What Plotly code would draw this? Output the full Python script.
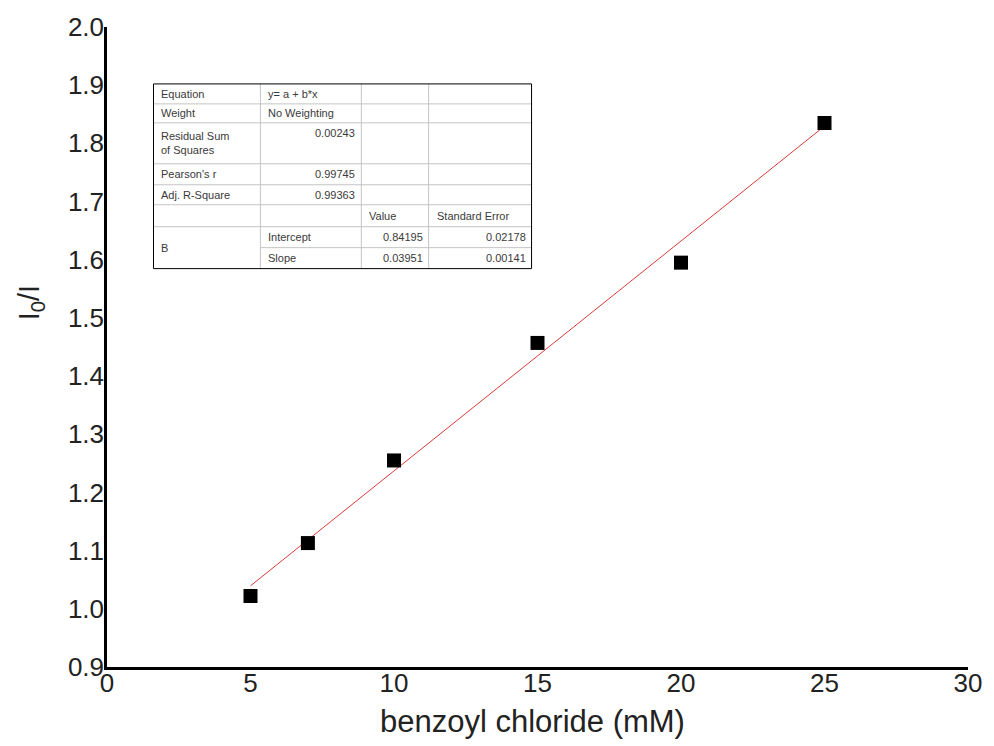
import plotly.graph_objects as go

# Quenching data: benzoyl chloride concentration vs I0/I
conc_mM = [5, 7, 10, 15, 20, 25]
i0_over_i = [1.022, 1.113, 1.255, 1.457, 1.595, 1.835]

# Linear fit results (y = a + b*x)
intercept = 0.84195
slope = 0.03951
fit_x = [5, 25]

x_ticks = [0, 5, 10, 15, 20, 25, 30]
y_ticks = [0.9, 1.0, 1.1, 1.2, 1.3, 1.4, 1.5, 1.6, 1.7, 1.8, 1.9, 2.0]

# Fit-report table content
table_rows = [
    ["Equation", "y= a + b*x", "", ""],
    ["Weight", "No Weighting", "", ""],
    ["Residual Sum<br>of Squares", "0.00243", "", ""],
    ["Pearson's r", "0.99745", "", ""],
    ["Adj. R-Square", "0.99363", "", ""],
    ["", "", "Value", "Standard Error"],
    ["B", "Intercept", "0.84195", "0.02178"],
    ["", "Slope", "0.03951", "0.00141"],
]

W, H = 994, 746
ML, MR, MT, MB = 107, 17, 26, 79
PW, PH = W - ML - MR, H - MT - MB


def px(xp):
    return (xp - ML) / PW


def py(yp):
    return (H - MB - yp) / PH


fig = go.Figure()

fig.add_trace(go.Scatter(
    x=fit_x, y=[intercept + slope * v for v in fit_x],
    mode="lines", line=dict(color="#d83a3a", width=1),
    hoverinfo="skip", showlegend=False,
))
fig.add_trace(go.Scatter(
    x=conc_mM, y=i0_over_i, mode="markers",
    marker=dict(symbol="square", size=14, color="black"),
    showlegend=False,
))

# Table geometry (pixels)
col_edges = [154, 262, 364, 432, 536]
row_edges = [83, 103, 122, 163, 184, 204, 226, 247, 268]

shapes = []
grid = "#c4c4c4"
for ce in col_edges[1:-1]:
    shapes.append(dict(type="line", xref="paper", yref="paper",
                       x0=px(ce), x1=px(ce), y0=py(row_edges[0]), y1=py(row_edges[-1]),
                       line=dict(color=grid, width=1)))
for i, re_ in enumerate(row_edges[1:-1], start=1):
    x_start = col_edges[1] if i == 7 else col_edges[0]
    shapes.append(dict(type="line", xref="paper", yref="paper",
                       x0=px(x_start), x1=px(col_edges[-1]), y0=py(re_), y1=py(re_),
                       line=dict(color=grid, width=1)))
shapes.append(dict(type="rect", xref="paper", yref="paper",
                   x0=px(col_edges[0]), x1=px(col_edges[-1]),
                   y0=py(row_edges[-1]), y1=py(row_edges[0]),
                   line=dict(color="black", width=1)))

annotations = []
tfont = dict(family="Liberation Sans, Arial, sans-serif", size=11, color="#3a3a3a")
right_aligned = {(2, 1), (3, 1), (4, 1), (6, 2), (6, 3), (7, 2), (7, 3)}
for r, row in enumerate(table_rows):
    for c, txt in enumerate(row):
        if not txt:
            continue
        top = row_edges[r]
        bot = row_edges[r + 1]
        if r == 6 and c == 0:
            bot = row_edges[8]
        if (r, c) == (2, 1):
            yc = top + 10
        else:
            yc = (top + bot) / 2
        if (r, c) in right_aligned:
            annotations.append(dict(x=px(col_edges[c + 1] - 4), y=py(yc), xref="paper", yref="paper",
                                    text=txt, showarrow=False, xanchor="right", yanchor="middle",
                                    font=tfont))
        else:
            annotations.append(dict(x=px(col_edges[c] + 6), y=py(yc), xref="paper", yref="paper",
                                    text=txt, showarrow=False, xanchor="left", yanchor="middle",
                                    align="left", font=tfont))

FAM = "Liberation Sans, Arial, sans-serif"
afont = dict(family=FAM, size=26, color="#222222")

# axis titles
annotations.append(dict(x=px(30), y=py(302), xref="paper", yref="paper",
                        text="I<sub>0</sub>/I", textangle=-90, showarrow=False,
                        xanchor="center", yanchor="middle",
                        font=dict(family=FAM, size=29, color="#222222")))
annotations.append(dict(x=px(537), y=py(722), xref="paper", yref="paper",
                        text="benzoyl chloride (mM)", showarrow=False,
                        xanchor="center", yanchor="middle",
                        font=dict(family=FAM, size=31, color="#222222")))

fig.update_layout(
    width=W, height=H,
    margin=dict(l=ML, r=MR, t=MT, b=MB),
    paper_bgcolor="white", plot_bgcolor="white",
    shapes=shapes, annotations=annotations,
    xaxis=dict(range=[0, 30], tickvals=x_ticks, ticks="", showgrid=False, zeroline=False,
               showline=True, linecolor="black", linewidth=2.5,
               tickfont=afont, ticklabelstandoff=-9),
    yaxis=dict(range=[0.9, 2.0], tickvals=y_ticks, tickformat=".1f", ticks="", showgrid=False,
               zeroline=False, showline=True, linecolor="black", linewidth=2.5,
               tickfont=afont, ticklabelstandoff=-5),
)

fig.write_html("out.html")
